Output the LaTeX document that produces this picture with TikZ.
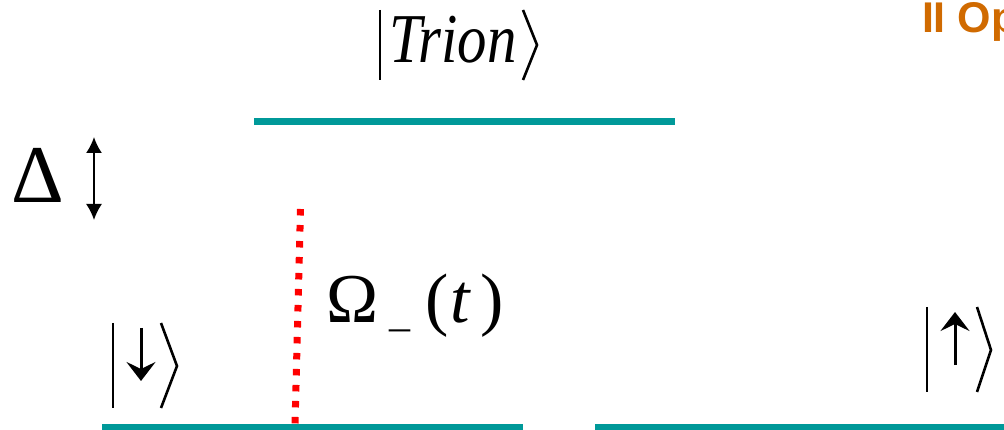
\documentclass[tikz,border=0pt]{standalone}
\usepackage{fontspec}
\setmainfont{Liberation Serif}
\newfontfamily\titlefont{Liberation Sans}
\usetikzlibrary{arrows.meta}
\definecolor{teal}{RGB}{0,153,153}
\definecolor{ttlorange}{RGB}{208,106,0}
\definecolor{dotred}{RGB}{255,0,0}
\tikzset{
  level/.style={draw=teal, line width=7pt, line cap=butt},
  ketline/.style={draw=black, line width=2.6pt, line join=miter},
  spinarrow/.style={draw=black, line width=3pt, -{Stealth[length=19pt,width=29pt,inset=7pt]}},
  deltaarrow/.style={draw=black, line width=1.8pt, {Latex[length=16pt,width=16pt]}-{Latex[length=16pt,width=16pt]}},
  pulse/.style={draw=dotred, line width=7pt, dash pattern=on 6.5pt off 9.5pt},
  lbl/.style={inner sep=0pt, outer sep=0pt}
}
\begin{document}
\begin{tikzpicture}[x=1pt,y=-1pt]
\useasboundingbox (0,0) rectangle (1004,430);
\clip (0,0) rectangle (1004,430);

% title fragment (cut off at the right edge, as in the reference)
\node[lbl, anchor=base west, text=ttlorange, font=\titlefont\bfseries\fontsize{43}{50}\selectfont] (title) at (922,33) {II Op};

% levels
\coordinate (trionL) at (254,122);
\coordinate (trionR) at (675,122);
\coordinate (dnL) at (102,427);
\coordinate (dnR) at (523,427);
\coordinate (upL) at (595,427);
\coordinate (upR) at (1010,427);
\draw[level] (trionL) -- (trionR);
\draw[level] (dnL) -- (dnR);
\draw[level] (upL) -- (upR);

% Trion ket
\coordinate (tb1) at (380,10);
\coordinate (tb2) at (380,80);
\draw[ketline] (tb1) -- (tb2);
\node[lbl, anchor=base west, font=\itshape\fontsize{70}{80}\selectfont, xscale=0.84] (trion) at (389,63) {Trion};
\coordinate (ta1) at (523,10);
\coordinate (ta2) at (537,45);
\coordinate (ta3) at (523,80);
\draw[ketline] (ta1) -- (ta2) -- (ta3);

% Delta
\node[lbl, anchor=base west, font=\fontsize{82}{90}\selectfont] (delta) at (11,203) {Δ};
\coordinate (dA) at (94,137);
\coordinate (dB) at (94,220);
\draw[deltaarrow] (dA) -- (dB);

% pulse
\coordinate (pT) at (300.5,209);
\coordinate (pB) at (295,425);
\draw[pulse] (pT) -- (pB);
\node[lbl, anchor=base west, font=\fontsize{70}{80}\selectfont] (omega) at (326,323)
  {Ω\hspace{11pt}{\fontsize{42}{46}\selectfont\raisebox{-4pt}{\_}}\hspace{15pt}(\kern2pt\textit{t}\kern9pt)};

% down ket
\coordinate (db1) at (113,323);
\coordinate (db2) at (113,408);
\draw[ketline] (db1) -- (db2);
\coordinate (dar1) at (141,328);
\coordinate (dar2) at (141,381);
\draw[spinarrow] (dar1) -- (dar2);
\coordinate (da1) at (161,323);
\coordinate (da2) at (177,366);
\coordinate (da3) at (161,408);
\draw[ketline] (da1) -- (da2) -- (da3);

% up ket
\coordinate (ub1) at (927,307);
\coordinate (ub2) at (927,392);
\draw[ketline] (ub1) -- (ub2);
\coordinate (uar1) at (955,365);
\coordinate (uar2) at (955,312);
\draw[spinarrow] (uar1) -- (uar2);
\coordinate (ua1) at (977,307);
\coordinate (ua2) at (991,350);
\coordinate (ua3) at (977,392);
\draw[ketline] (ua1) -- (ua2) -- (ua3);
\end{tikzpicture}
\end{document}
